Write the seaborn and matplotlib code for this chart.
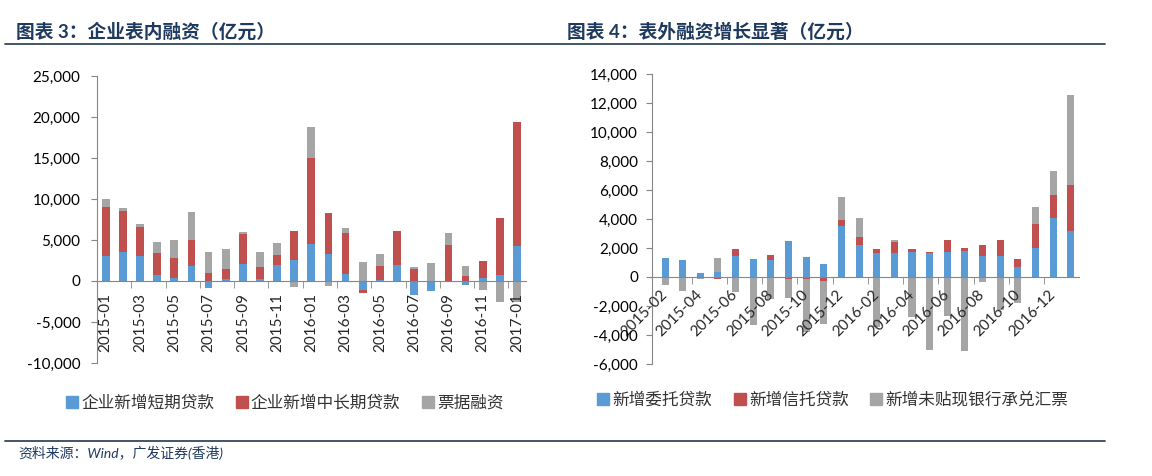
import numpy as np
import pandas as pd
import matplotlib
matplotlib.use('Agg')
import matplotlib.pyplot as plt
import seaborn as sns
from matplotlib.ticker import FuncFormatter
from matplotlib.lines import Line2D

# ---- left chart data (亿元) ----
months_in = ['2015-01', '2015-02', '2015-03', '2015-04', '2015-05', '2015-06', '2015-07',
             '2015-08', '2015-09', '2015-10', '2015-11', '2015-12', '2016-01', '2016-02',
             '2016-03', '2016-04', '2016-05', '2016-06', '2016-07', '2016-08', '2016-09',
             '2016-10', '2016-11', '2016-12', '2017-01']
short_loans = [3000, 3490, 3050, 730, 330, 1830, -810, 290, 2110, 290, 1950, 2600, 4550,
               3330, 890, -1100, 80, 1990, -1750, -1260, -50, -450, 370, 770, 4260]
midlong_loans = [6050, 5040, 3570, 2680, 2440, 3120, 940, 1140, 3570, 1460, 1260, 3450, 10510,
                 4950, 5000, -320, 1700, 4060, 1420, 0, 4430, 650, 2030, 6900, 15190]
bill_financing = [940, 360, 320, 1340, 2230, 3450, 2600, 2480, 290, 1830, 1460, -730, 3740,
                  -650, 520, 2350, 1540, 50, 290, 2190, 1460, 1140, -1060, -2600, -2500]

# ---- right chart data (亿元) ----
months_off = ['2015-02', '2015-03', '2015-04', '2015-05', '2015-06', '2015-07', '2015-08',
              '2015-09', '2015-10', '2015-11', '2015-12', '2016-01', '2016-02', '2016-03',
              '2016-04', '2016-05', '2016-06', '2016-07', '2016-08', '2016-09', '2016-10',
              '2016-11', '2016-12', '2017-01']
entrusted = [1340, 1150, 300, 320, 1430, 1220, 1200, 2460, 1380, 900, 3520, 2190, 1660, 1680,
             1730, 1660, 1700, 1800, 1450, 1450, 710, 2030, 4050, 3150]
trust = [0, 0, 0, -160, 530, 30, 340, -160, -130, -250, 400, 550, 300, 740, 230, 70, 830, 180,
         740, 1080, 550, 1630, 1610, 3180]
undiscounted = [-575, -990, -115, 970, -1040, -3340, -1500, -1290, -3670, -3000, 1570, 1340,
                -3450, 160, -2760, -5060, -2720, -5130, -345, -2300, -1800, 1170, 1640, 6220]

names_in = ['企业新增短期贷款', '企业新增中长期贷款', '票据融资']
names_off = ['新增委托贷款', '新增信托贷款', '新增未贴现银行承兑汇票']

blue = '#5B9BD5'
red = '#C0504D'
grey = '#A5A5A5'
axis_c = '#868686'
navy = '#1F3A5F'

sns.set_style('white')
plt.rcParams['font.family'] = ['Lato', 'Noto Sans CJK SC', 'DejaVu Sans']
plt.rcParams['axes.unicode_minus'] = False

fig = plt.figure(figsize=(11.52, 4.76), dpi=100)


def stacked(ax, months, s1, s2, s3, width):
    df = pd.DataFrame({'month': months, 'a': s1, 'b': s2, 'c': s3})
    p1 = df.a.clip(lower=0)
    p2 = p1 + df.b.clip(lower=0)
    p3 = p2 + df.c.clip(lower=0)
    n1 = df.a.clip(upper=0)
    n2 = n1 + df.b.clip(upper=0)
    n3 = n2 + df.c.clip(upper=0)
    # overlay from outermost stack to innermost
    for vals, col in [(p3, grey), (p2, red), (p1, blue), (n3, grey), (n2, red), (n1, blue)]:
        sns.barplot(x=df.month, y=vals, order=months, color=col, saturation=1,
                    width=width, errorbar=None, linewidth=0, ax=ax)


def style_axis(ax, n):
    ax.set_axisbelow(False)  # tick labels sit over the bars, like the original
    for s in ['top', 'right']:
        ax.spines[s].set_visible(False)
    ax.spines['left'].set_color(axis_c)
    ax.spines['bottom'].set_color(axis_c)
    ax.spines['bottom'].set_position(('data', 0))
    ax.set_xlabel('')
    ax.set_ylabel('')
    ax.yaxis.set_major_formatter(FuncFormatter(lambda v, p: f'{v:,.0f}'))
    ax.tick_params(axis='y', length=4, color=axis_c, labelsize=11, labelcolor='#000000', pad=8, left=True)
    ax.set_xticks(np.arange(1.5, n - 1, 2), minor=True)
    ax.tick_params(axis='x', which='minor', length=5, color=axis_c, direction='out', bottom=True)


# ---------------- left ----------------
ax1 = fig.add_axes([97 / 1152, 1 - 363 / 476, 429 / 1152, 287 / 476])
stacked(ax1, months_in, short_loans, midlong_loans, bill_financing, 0.45)
ax1.set_ylim(-10000, 25000)
ax1.set_yticks(np.arange(-10000, 25001, 5000))
ax1.set_xlim(-0.51, 24.53)
style_axis(ax1, len(months_in))
ax1.set_xticks(np.arange(0, len(months_in), 2))
ax1.set_xticklabels(months_in[::2], rotation=90, ha='center', va='top', fontsize=11)
ax1.tick_params(axis='x', which='major', length=0, pad=9)

# ---------------- right ----------------
ax2 = fig.add_axes([652 / 1152, 1 - 364 / 476, 427 / 1152, 290 / 476])
stacked(ax2, months_off, entrusted, trust, undiscounted, 0.4)
ax2.set_ylim(-6000, 14000)
ax2.set_yticks(np.arange(-6000, 14001, 2000))
ax2.set_xlim(-0.74, 23.47)
style_axis(ax2, len(months_off))
ax2.tick_params(axis='y', pad=6)
ax2.set_xticks(np.arange(0, len(months_off), 2))
ax2.set_xticklabels(months_off[::2], rotation=45, ha='right', va='center',
                    rotation_mode='anchor', fontsize=11)
ax2.tick_params(axis='x', which='major', length=0, pad=11)

# ---------------- legends ----------------
def handles(cols):
    return [Line2D([], [], marker='s', linestyle='', markersize=8, color=c) for c in cols]


fig.legend(handles([blue, red, grey]), names_in, loc='center', bbox_to_anchor=(285 / 1152, 1 - 403 / 476),
           ncol=3, frameon=False, fontsize=12, handlelength=0.7, handletextpad=0.2,
           columnspacing=1.3, labelcolor='#333333')
fig.legend(handles([blue, red, grey]), names_off, loc='center', bbox_to_anchor=(833 / 1152, 1 - 400 / 476),
           ncol=3, frameon=False, fontsize=12, handlelength=0.7, handletextpad=0.2,
           columnspacing=1.3, labelcolor='#333333')

# ---------------- titles, rules, source ----------------
fig.text(16 / 1152, 1 - 31 / 476, '图表 3：企业表内融资（亿元）', fontsize=13.5, fontweight='bold',
         color=navy, va='center', ha='left')
fig.text(567 / 1152, 1 - 31 / 476, '图表 4：表外融资增长显著（亿元）', fontsize=13.5, fontweight='bold',
         color=navy, va='center', ha='left')
fig.add_artist(Line2D([5 / 1152, 1105 / 1152], [1 - 44 / 476] * 2, color='#34495E', lw=1.3))
fig.add_artist(Line2D([5 / 1152, 1105 / 1152], [1 - 441 / 476] * 2, color='#34495E', lw=1.3))
fig.text(18 / 1152, 1 - 453 / 476, '资料来源：Wind，广发证券(香港)', fontsize=10, style='italic',
         color=navy, va='center', ha='left')

fig.savefig('out.png', dpi=100)
